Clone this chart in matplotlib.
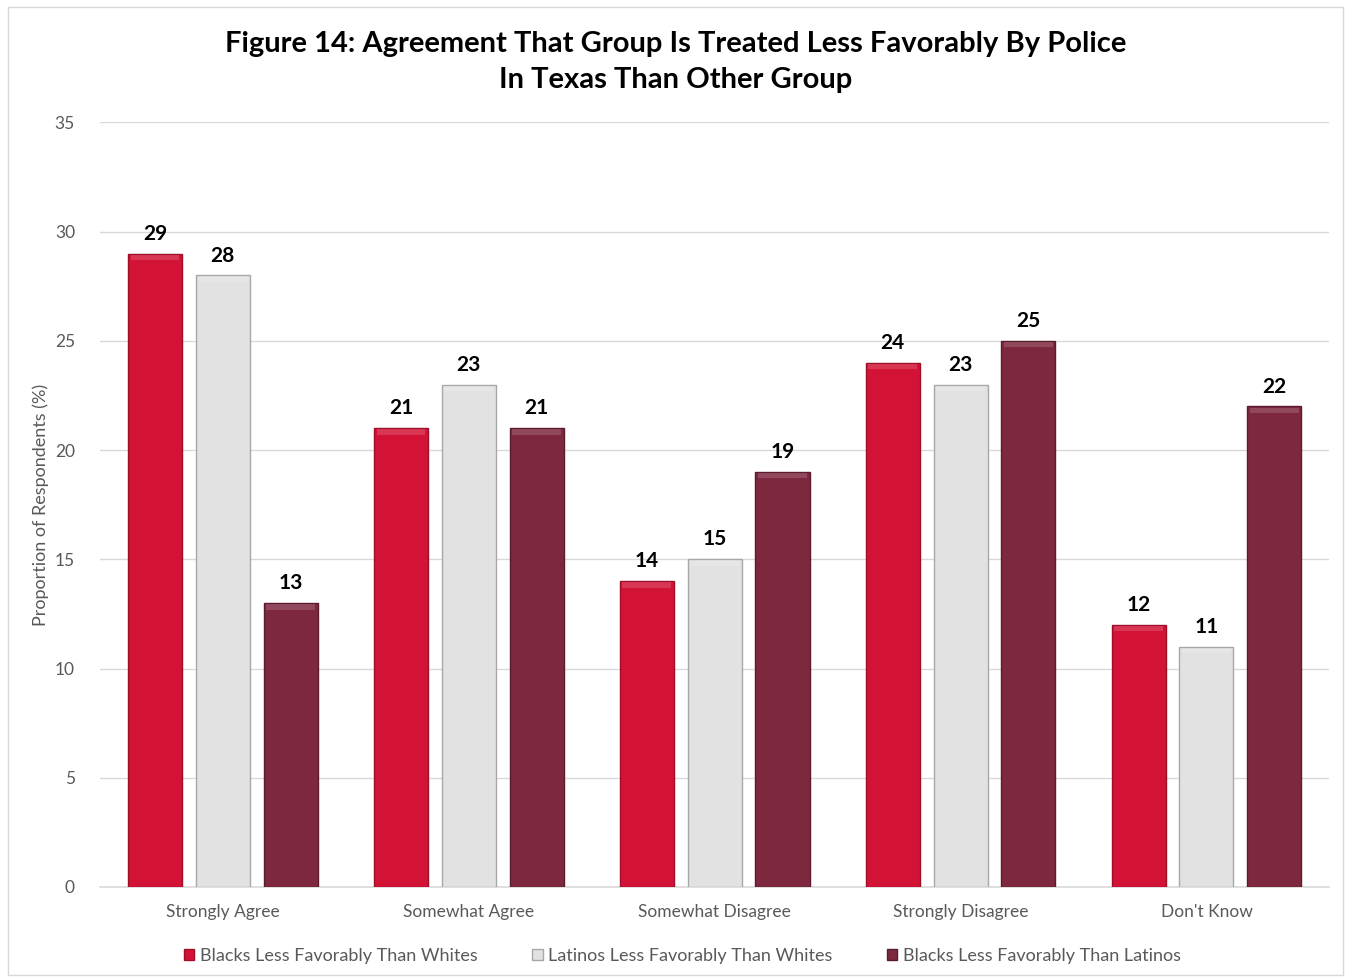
import numpy as np
import matplotlib.pyplot as plt
from matplotlib.patches import Rectangle

plt.rcParams['font.family'] = ['Lato', 'DejaVu Sans']

categories = ['Strongly Agree', 'Somewhat Agree', 'Somewhat Disagree', 'Strongly Disagree', "Don't Know"]
series_names = ['Blacks Less Favorably Than Whites',
                'Latinos Less Favorably Than Whites',
                'Blacks Less Favorably Than Latinos']
blacks_vs_whites = [29, 21, 14, 24, 12]
latinos_vs_whites = [28, 23, 15, 23, 11]
blacks_vs_latinos = [13, 21, 19, 25, 22]

colors = ['#D31336', '#E2E2E2', '#7E2840']
edges = ['#9E0E29', '#A8A8A8', '#5A1C2D']
gray = '#595959'

fig = plt.figure(figsize=(13.51, 9.8), dpi=100)
ax = fig.add_axes([0.074, 0.095, 0.910, 0.780])

x = np.arange(len(categories))
width = 0.22
offset = 0.276
all_series = [blacks_vs_whites, latinos_vs_whites, blacks_vs_latinos]
for i, vals in enumerate(all_series):
    pos = x + (i - 1) * offset
    bars = ax.bar(pos, vals, width, color=colors[i], edgecolor=edges[i],
                  linewidth=1.0, label=series_names[i], zorder=3)
    # subtle bevel strip on top of each bar
    ax.bar(pos, [0.25] * len(vals), width * 0.9, bottom=np.array(vals) - 0.3,
           color='white', alpha=0.15, linewidth=0, zorder=4)
    for b, v in zip(bars, vals):
        ax.text(b.get_x() + b.get_width() / 2, v + 0.45, str(v),
                ha='center', va='bottom', fontsize=15, fontweight='bold',
                color='black')

ax.set_xlim(-0.5, len(categories) - 0.5)
ax.set_ylim(0, 35)
ax.set_yticks(range(0, 36, 5))
ax.set_xticks(x)
ax.set_xticklabels(categories)
ax.tick_params(axis='both', length=0, labelsize=12.5, colors=gray, pad=12)
ax.tick_params(axis='y', pad=18)
ax.grid(axis='y', color='#D9D9D9', linewidth=1, zorder=0)
for s in ['top', 'right', 'left']:
    ax.spines[s].set_visible(False)
ax.spines['bottom'].set_color('#D9D9D9')
ax.spines['bottom'].set_linewidth(1.2)
ax.set_ylabel('Proportion of Respondents (%)', fontsize=13, color=gray, labelpad=4)

fig.suptitle('Figure 14: Agreement That Group Is Treated Less Favorably By Police\nIn Texas Than Other Group',
             y=0.968, fontsize=21, fontweight='bold', color='black', linespacing=1.45)

handles, labels = ax.get_legend_handles_labels()
handles = [h.patches[0] if hasattr(h, 'patches') else h for h in handles]
fig.legend(handles[:3], labels[:3], loc='lower center', ncol=3, frameon=False,
           bbox_to_anchor=(0.505, 0.0), fontsize=13, handlelength=0.6,
           handleheight=0.6, handletextpad=0.3, columnspacing=3.0,
           labelcolor=gray)

fig.patches.append(Rectangle((0.006, 0.005), 0.988, 0.988, transform=fig.transFigure,
                             fill=False, edgecolor='#D9D9D9', linewidth=1))

fig.savefig('out.png', dpi=100)
